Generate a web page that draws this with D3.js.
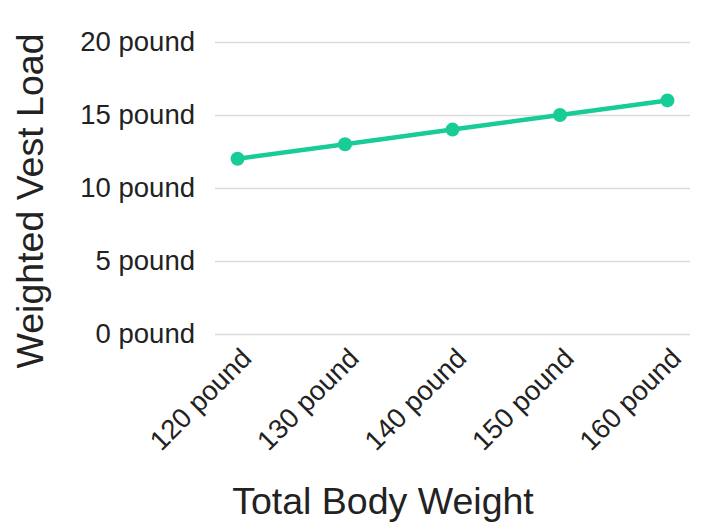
<!DOCTYPE html>
<html>
<head>
<meta charset="utf-8">
<script src="https://cdn.jsdelivr.net/npm/d3@7"></script>
<style>
  body { margin: 0; background: #fff; }
  text { font-family: "Liberation Sans", Arial, sans-serif; fill: #222; }
</style>
</head>
<body>
<svg id="chart"></svg>
<script>
    // Data
    const categories = ['120 pound', '130 pound', '140 pound', '150 pound', '160 pound'];
    const loads = [12, 13, 14, 15, 16];
    const yTicks = [0, 5, 10, 15, 20];

    const w = 720;
    const h = 529;
    const padLeft = 215, padRight = 690, padTop = 42, padBottom = 334;

    const svg = d3.select('#chart')
        .attr('width', w)
        .attr('height', h);

    // Scales
    const scaleX = d3.scalePoint()
        .domain(categories)
        .range([padLeft, padRight])
        .padding(0.21);

    const scaleY = d3.scaleLinear()
        .domain([0, 20])
        .range([padBottom, padTop]);

    // Grid + y labels
    const yAxis = d3.axisLeft(scaleY)
        .tickValues(yTicks)
        .tickSize(-(padRight - padLeft))
        .tickPadding(20)
        .tickFormat(d => d + ' pound');

    const gy = svg.append('g')
        .attr('transform', `translate(${padLeft}, 0)`)
        .call(yAxis);
    gy.select('.domain').remove();
    gy.selectAll('.tick line').attr('stroke', '#dcdcdc').attr('stroke-width', 1.5);
    gy.selectAll('.tick text')
        .attr('font-size', 27.5)
        .attr('fill', '#222')
        .style('font-family', '"Liberation Sans", Arial, sans-serif');

    // X labels
    const xAxis = d3.axisBottom(scaleX).tickSize(0).tickPadding(0);
    const gx = svg.append('g')
        .attr('transform', `translate(0, ${padBottom})`)
        .call(xAxis);
    gx.select('.domain').remove();
    gx.selectAll('.tick text')
        .attr('font-size', 27.5)
        .attr('fill', '#222')
        .style('font-family', '"Liberation Sans", Arial, sans-serif')
        .attr('text-anchor', 'end')
        .attr('dy', 0)
        .attr('transform', 'translate(15, 26) rotate(-45)');

    // Line
    const line = d3.line()
        .x((d, i) => scaleX(categories[i]))
        .y(d => scaleY(d));

    svg.append('path')
        .datum(loads)
        .attr('d', line)
        .attr('fill', 'none')
        .attr('stroke', '#18cc97')
        .attr('stroke-width', 4.5);

    svg.selectAll('circle.pt')
        .data(loads)
        .enter()
        .append('circle')
        .attr('class', 'pt')
        .attr('cx', (d, i) => scaleX(categories[i]))
        .attr('cy', d => scaleY(d))
        .attr('r', 7)
        .attr('fill', '#18cc97');

    // Axis titles
    svg.append('text')
        .attr('x', 383)
        .attr('y', 514)
        .attr('text-anchor', 'middle')
        .attr('font-size', 37.5)
        .text('Total Body Weight');

    svg.append('text')
        .attr('transform', 'translate(43, 201) rotate(-90)')
        .attr('text-anchor', 'middle')
        .attr('font-size', 37.5)
        .text('Weighted Vest Load');
</script>
</body>
</html>
